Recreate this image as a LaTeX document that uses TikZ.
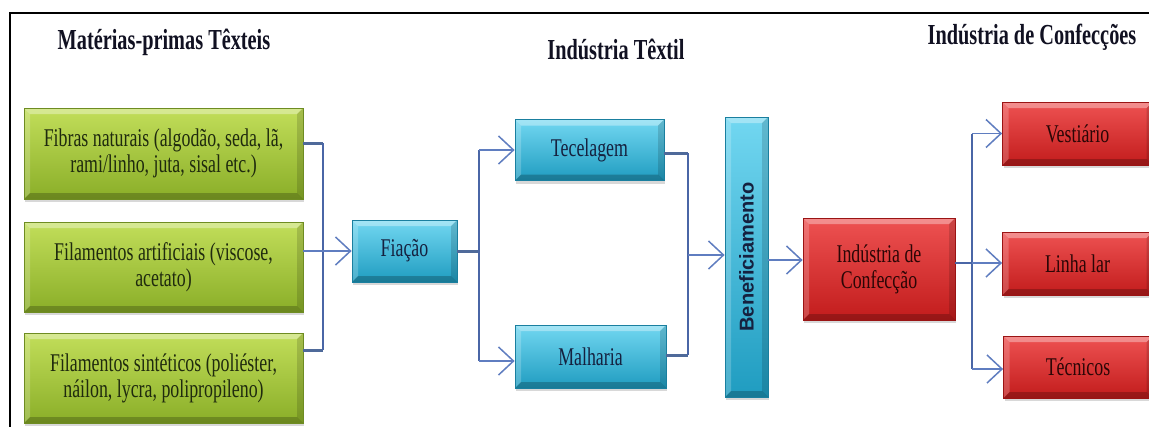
\documentclass[tikz,border=0pt]{standalone}
\usepackage{fontspec}
\setmainfont{Liberation Serif}[FakeStretch=0.7]
\newfontfamily\benfont{Liberation Sans}
\usetikzlibrary{arrows.meta,shadows}
\definecolor{gtop}{HTML}{C2DE5A}
\definecolor{gmid}{HTML}{A6CC38}
\definecolor{gbot}{HTML}{8AAE28}
\definecolor{gborder}{HTML}{6E8C22}
\definecolor{btop}{HTML}{72D7F1}
\definecolor{bmid}{HTML}{3CBCDD}
\definecolor{bbot}{HTML}{1F9CC0}
\definecolor{bborder}{HTML}{1A7F9F}
\definecolor{rtop}{HTML}{EE5252}
\definecolor{rmid}{HTML}{E02E2E}
\definecolor{rbot}{HTML}{C21C1C}
\definecolor{rborder}{HTML}{9A1414}
\definecolor{gtext}{HTML}{1F2A0E}
\definecolor{btext}{HTML}{15213F}
\definecolor{rtext}{HTML}{2B0606}
\definecolor{titlec}{HTML}{111122}
\definecolor{linec}{HTML}{4A66A6}
\definecolor{stubc}{HTML}{4F6A9A}
\definecolor{arrc}{HTML}{5F7DC0}
\tikzset{
  bevel/.style={path picture={
    \fill[white,opacity=.35] (path picture bounding box.north west) -- (path picture bounding box.north east)
      -- ([shift={(-6pt,-6pt)}]path picture bounding box.north east) -- ([shift={(6pt,-6pt)}]path picture bounding box.north west) -- cycle;
    \fill[white,opacity=.2] (path picture bounding box.north west) -- ([shift={(6pt,-6pt)}]path picture bounding box.north west)
      -- ([shift={(6pt,6pt)}]path picture bounding box.south west) -- (path picture bounding box.south west) -- cycle;
    \fill[black,opacity=.22] (path picture bounding box.south west) -- (path picture bounding box.south east)
      -- ([shift={(-6pt,6pt)}]path picture bounding box.south east) -- ([shift={(6pt,6pt)}]path picture bounding box.south west) -- cycle;
    \fill[black,opacity=.14] (path picture bounding box.north east) -- (path picture bounding box.south east)
      -- ([shift={(-6pt,6pt)}]path picture bounding box.south east) -- ([shift={(-6pt,-6pt)}]path picture bounding box.north east) -- cycle;
  }},
  basebox/.style={rectangle, line width=0.8pt, align=center, inner sep=3pt,
    font=\fontsize{25.5}{26}\selectfont, bevel,
    drop shadow={shadow xshift=1pt, shadow yshift=-3pt, opacity=.3}},
  gbox/.style={basebox, draw=gborder, top color=gtop, middle color=gmid, bottom color=gbot, text=gtext},
  bbox/.style={basebox, draw=bborder, top color=btop, middle color=bmid, bottom color=bbot, text=btext},
  rbox/.style={basebox, draw=rborder, top color=rtop, middle color=rmid, bottom color=rbot, text=rtext},
  titletext/.style={anchor=base, text=titlec, font=\bfseries\fontsize{29}{32}\selectfont},
  conn/.style={draw=linec, line width=1.8pt},
  stub/.style={draw=stubc, line width=3pt},
  arr/.style={draw=arrc, line width=1.5pt, -{Straight Barb[length=15pt,width=28pt,line width=1.5pt]}},
  frameline/.style={draw=black, line width=2.7pt}
}
\begin{document}
\begin{tikzpicture}[x=1pt,y=-1pt]
\useasboundingbox (0,0) rectangle (1149,426);
\clip (0,0) rectangle (1149,426);
\fill[white] (0,0) rectangle (1149,426);

% frame
\coordinate (fbl) at (10,430);
\coordinate (ftl) at (10,13);
\coordinate (ftr) at (1152,13);
\draw[frameline] (fbl) -- (ftl) -- (ftr);

% titles
\node[titletext] (t1) at (164,49) {Matérias-primas Têxteis};
\node[titletext] (t2) at (616,59) {Indústria Têxtil};
\node[titletext] (t3) at (1032,44) {Indústria de Confecções};

% green boxes
\node[gbox, minimum width=279pt, minimum height=91pt] (g1) at (163.5,153.5) {Fibras naturais (algodão, seda, lã,\\rami/linho, juta, sisal etc.)};
\node[gbox, minimum width=279pt, minimum height=90pt] (g2) at (163.5,267) {Filamentos artificiais (viscose,\\acetato)};
\node[gbox, minimum width=279pt, minimum height=90pt] (g3) at (163.5,378) {Filamentos sintéticos (poliéster,\\náilon, lycra, polipropileno)};

% blue boxes
\node[bbox, minimum width=105pt, minimum height=62pt] (fia) at (404.5,251) {Fiação};
\node[bbox, minimum width=149pt, minimum height=61pt] (tec) at (589.5,150) {Tecelagem};
\node[bbox, minimum width=151pt, minimum height=63pt] (mal) at (590.5,356.5) {Malharia};
\node[bbox, minimum width=43pt, minimum height=280pt] (ben) at (746.5,257) {\rotatebox{90}{\benfont\bfseries\fontsize{20}{24}\selectfont Beneficiamento}};

% red boxes
\node[rbox, minimum width=152pt, minimum height=102pt] (ind) at (879,269) {Indústria de\\Confecção};
\node[rbox, minimum width=150pt, minimum height=63pt] (ves) at (1077.5,133.5) {Vestiário};
\node[rbox, minimum width=150pt, minimum height=63pt] (lin) at (1077.5,263.5) {Linha lar};
\node[rbox, minimum width=149pt, minimum height=62pt] (tecn) at (1078,367) {Técnicos};

% raw materials -> Fiação
\coordinate (j1) at (323,143);
\coordinate (j3) at (323,350);
\draw[stub] (g1.east |- j1) -- (j1);
\draw[stub] (g3.east |- j3) -- (j3);
\draw[conn] (j1) -- (j3);
\draw[arr] (g2.east |- fia.west) -- (fia.west);

% Fiação -> Tecelagem / Malharia
\coordinate (j4) at (479,251);
\coordinate (j5) at (479,150);
\coordinate (j6) at (479,361);
\draw[stub] (fia.east) -- (j4);
\draw[conn] (j5) -- (j6);
\draw[arr] (j5) -- (tec.west);
\draw[arr] (j6) -- (j6 -| mal.west);

% Tecelagem / Malharia -> Beneficiamento
\coordinate (j7) at (688,153);
\coordinate (j8) at (688,355);
\coordinate (j9) at (688,255);
\draw[stub] (tec.east |- j7) -- (j7);
\draw[stub] (mal.east |- j8) -- (j8);
\draw[conn] (j7) -- (j8);
\draw[arr] (j9) -- (j9 -| ben.west);

% Beneficiamento -> Indústria de Confecção
\coordinate (a2) at (785,260);
\draw[arr] (a2 -| ben.east) -- (a2 -| ind.west);

% Indústria de Confecção -> products
\coordinate (k0) at (972,263);
\coordinate (k1) at (972,133.5);
\coordinate (k3) at (972,369);
\draw[conn] (ind.east |- k0) -- (k0);
\draw[conn] (k1) -- (k3);
\draw[arr] (k1) -- (ves.west);
\draw[arr] (k0) -- (k0 -| lin.west);
\draw[arr] (k3) -- (k3 -| tecn.west);
\end{tikzpicture}
\end{document}
